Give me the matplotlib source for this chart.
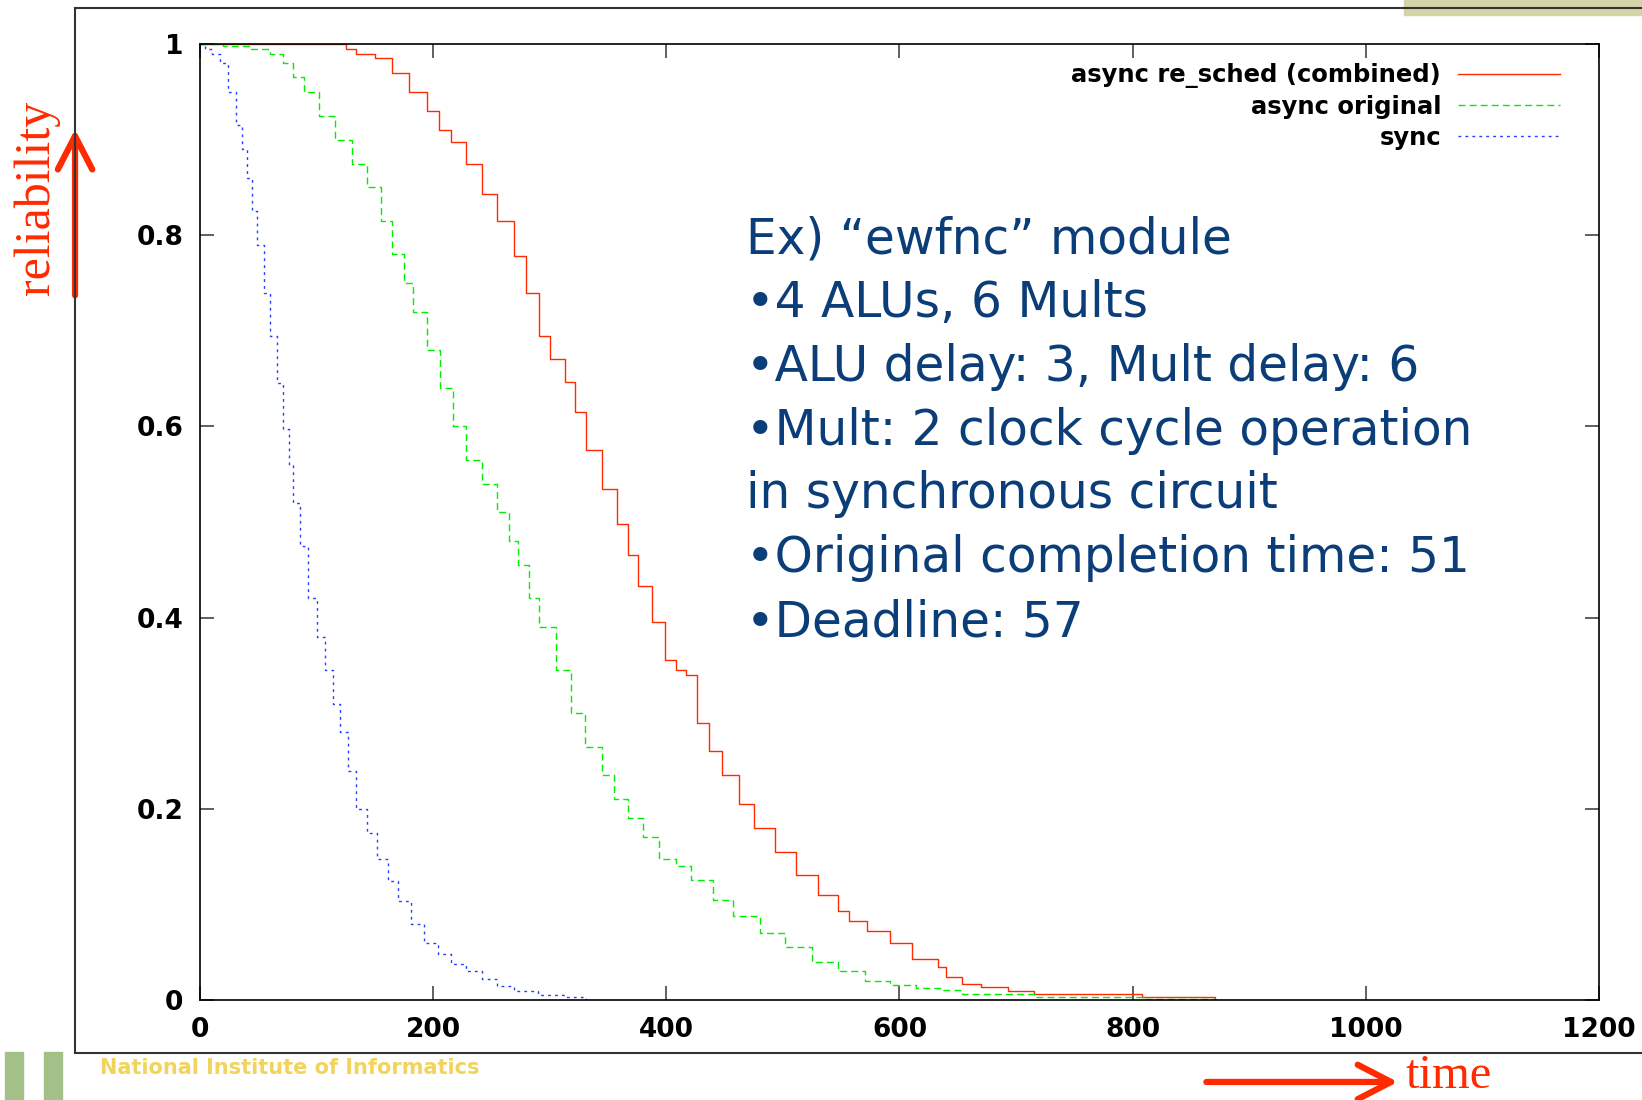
import matplotlib
matplotlib.use('Agg')
import matplotlib.pyplot as plt
from matplotlib.patches import FancyArrowPatch, Rectangle
from matplotlib.lines import Line2D

# async re_sched (combined)
t_resched = [0, 111, 125, 134, 150, 165, 179, 195, 205, 215, 228, 242, 255, 269, 280,
             291, 300, 313, 322, 331, 345, 358, 367, 376, 388, 399, 408, 417, 426, 437,
             448, 462, 475, 493, 511, 530, 547, 557, 572, 592, 611, 633, 640, 654, 670,
             693, 715, 808, 871]
r_resched = [1.0, 1.0, 0.995, 0.99, 0.985, 0.97, 0.95, 0.93, 0.91, 0.898, 0.875, 0.843,
             0.815, 0.778, 0.74, 0.695, 0.67, 0.646, 0.615, 0.575, 0.535, 0.498, 0.465,
             0.433, 0.395, 0.356, 0.345, 0.34, 0.29, 0.26, 0.235, 0.205, 0.18, 0.155,
             0.131, 0.11, 0.093, 0.083, 0.072, 0.06, 0.043, 0.035, 0.024, 0.017, 0.014,
             0.0095, 0.006, 0.003, 0.0]

# async original
t_orig = [0, 20, 44, 60, 71, 80, 89, 102, 116, 130, 143, 155, 165, 175, 183, 195, 206,
          217, 228, 242, 255, 265, 273, 282, 291, 305, 318, 330, 345, 355, 367, 380, 394,
          408, 421, 440, 457, 480, 502, 525, 547, 570, 592, 614, 637, 654, 716, 810, 871]
r_orig = [1.0, 0.998, 0.995, 0.99, 0.98, 0.965, 0.95, 0.925, 0.90, 0.875, 0.85, 0.815,
          0.78, 0.75, 0.72, 0.68, 0.64, 0.60, 0.565, 0.54, 0.51, 0.48, 0.455, 0.42, 0.39,
          0.345, 0.30, 0.265, 0.235, 0.21, 0.19, 0.17, 0.148, 0.14, 0.126, 0.105, 0.088,
          0.07, 0.055, 0.04, 0.03, 0.02, 0.016, 0.013, 0.01, 0.006, 0.003, 0.001, 0.0]

# sync
t_sync = [0, 4, 10, 17, 24, 31, 36, 40, 45, 49, 55, 60, 66, 71, 76, 80, 86, 93, 100,
          107, 114, 120, 127, 134, 143, 152, 161, 170, 181, 192, 204, 215, 228, 242, 255,
          269, 290, 313, 331]
r_sync = [1.0, 0.995, 0.99, 0.98, 0.95, 0.915, 0.89, 0.86, 0.825, 0.79, 0.74, 0.695,
          0.645, 0.597, 0.56, 0.52, 0.475, 0.42, 0.38, 0.345, 0.31, 0.28, 0.24, 0.20,
          0.175, 0.148, 0.125, 0.104, 0.08, 0.06, 0.048, 0.038, 0.03, 0.022, 0.015,
          0.009, 0.005, 0.003, 0.0]

x_ticks = [0, 200, 400, 600, 800, 1000, 1200]
y_ticks = [0, 0.2, 0.4, 0.6, 0.8, 1]
y_ticklabels = ['0', '0.2', '0.4', '0.6', '0.8', '1']

notes = ['Ex) \u201cewfnc\u201d module',
         '\u20224 ALUs, 6 Mults',
         '\u2022ALU delay: 3, Mult delay: 6',
         '\u2022Mult: 2 clock cycle operation',
         'in synchronous circuit',
         '\u2022Original completion time: 51',
         '\u2022Deadline: 57']

RED = '#ff2a00'
NAVY = '#0b3d78'

fig = plt.figure(figsize=(16.42, 11), dpi=100)
ax = fig.add_axes([0.1218, 0.0909, 0.852, 0.8691])

ax.plot(t_resched, r_resched, drawstyle='steps-post', color='#ff2a00', lw=1.0,
        label='async re_sched (combined)')
ax.plot(t_orig, r_orig, drawstyle='steps-post', color='#00ee00', lw=1.0,
        dashes=(5, 3), label='async original')
ax.plot(t_sync, r_sync, drawstyle='steps-post', color='#2040ff', lw=1.0,
        dashes=(2, 3), label='sync')

ax.set_xlim(0, 1200)
ax.set_ylim(0, 1)
ax.set_xticks(x_ticks)
ax.set_yticks(y_ticks)
ax.set_yticklabels(y_ticklabels)
ax.tick_params(direction='in', length=10, width=1.2, color='#444444',
               top=True, right=True, labelsize=19, pad=12)
for lab in ax.get_xticklabels() + ax.get_yticklabels():
    lab.set_fontweight('bold')
    lab.set_family('DejaVu Sans')
for sp in ax.spines.values():
    sp.set_linewidth(1.2)

leg = ax.legend(loc='upper right', bbox_to_anchor=(0.988, 1.003), frameon=False,
                markerfirst=False, alignment='right', handlelength=4.2,
                handletextpad=0.7, labelspacing=0.28,
                prop={'family': 'DejaVu Sans', 'weight': 'bold', 'size': 17.5})

for i, line in enumerate(notes):
    ax.text(0.390, 0.796 - i * 0.0668, line, transform=ax.transAxes,
            fontsize=35, color=NAVY, family='DejaVu Sans', va='center', ha='left')

# slide decorations
fig.add_artist(Line2D([0.0457, 1.0], [0.9927, 0.9927], color='#333333', lw=1.5))
fig.add_artist(Line2D([0.0457, 0.0457], [0.0427, 0.9927], color='#333333', lw=1.5))
fig.add_artist(Line2D([0.0457, 1.0], [0.0427, 0.0427], color='#333333', lw=1.5))
fig.add_artist(Rectangle((0.855, 0.986), 0.145, 0.014, color='#d5d4a8', zorder=0))
fig.add_artist(Rectangle((0.003, 0.0), 0.011, 0.0436, color='#a3c088'))
fig.add_artist(Rectangle((0.027, 0.0), 0.011, 0.0436, color='#a3c088'))
fig.text(0.061, 0.029, 'National Institute of Informatics', color='#f2d35c',
         fontsize=15, fontweight='bold', va='center', ha='left')

# axis hints
fig.add_artist(FancyArrowPatch((0.0457, 0.729), (0.0457, 0.885),
                               transform=fig.transFigure, color=RED, lw=4.5,
                               mutation_scale=20,
                               arrowstyle='->,head_length=1.2,head_width=0.62'))
fig.text(0.0225, 0.82, 'reliability', rotation=90, color=RED, fontsize=36,
         family='Liberation Serif', va='center', ha='center')
fig.add_artist(FancyArrowPatch((0.733, 0.0164), (0.853, 0.0164),
                               transform=fig.transFigure, color=RED, lw=4.5,
                               mutation_scale=20,
                               arrowstyle='->,head_length=1.2,head_width=0.62'))
fig.text(0.856, 0.022, 'time', color=RED, fontsize=35,
         family='Liberation Serif', va='center', ha='left')

fig.savefig('out.png', dpi=100)
